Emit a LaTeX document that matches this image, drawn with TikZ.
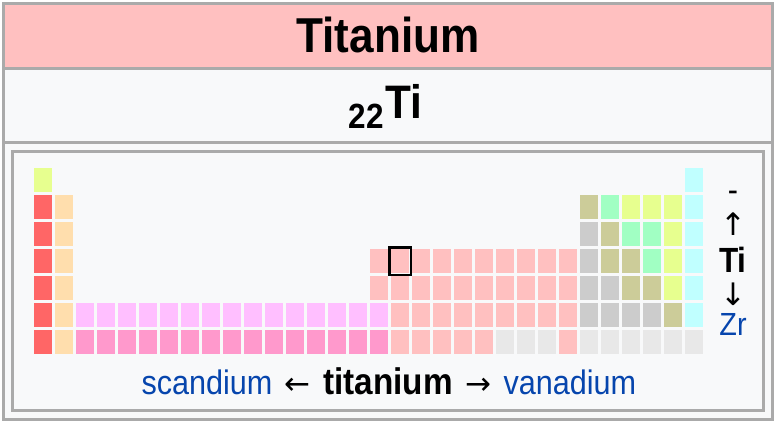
\documentclass[tikz,border=0pt]{standalone}
\usepackage{fontspec}
\usetikzlibrary{positioning}
\setmainfont{Liberation Sans}[FakeStretch=0.9]
\newfontfamily\arrowfont{DejaVu Sans}

% element colours
\definecolor{diatomic}{HTML}{E7FF8F}
\definecolor{polyatomic}{HTML}{A1FFC3}
\definecolor{alkali}{HTML}{FF6666}
\definecolor{alkearth}{HTML}{FFDEAD}
\definecolor{lanthanide}{HTML}{FFBFFF}
\definecolor{actinide}{HTML}{FF99CC}
\definecolor{transition}{HTML}{FFC0C0}
\definecolor{posttrans}{HTML}{CCCCCC}
\definecolor{metalloid}{HTML}{CCCC99}
\definecolor{noble}{HTML}{C0FFFF}
\definecolor{unknown}{HTML}{E8E8E8}
\definecolor{framegray}{HTML}{AAAAAA}
\definecolor{boxbg}{HTML}{F8F9FA}
\definecolor{linkblue}{HTML}{0645AD}

\tikzset{
    frame/.style={draw=framegray,line width=3pt},
    bigtitle/.style={font=\fontsize{49}{49}\selectfont\bfseries,inner sep=0pt},
    sidetext/.style={font=\fontsize{34}{34}\selectfont,inner sep=0pt},
    arrowtext/.style={font=\arrowfont\fontsize{31}{31}\selectfont,inner sep=0pt},
    linktext/.style={sidetext,text=linkblue},
}

\begin{document}
\begin{tikzpicture}[x=1pt,y=-1pt,node distance=12pt]
    % Background and frame
    \useasboundingbox (0,0) rectangle (776,421);
    \fill[white] (0,0) rectangle (776,421);
    \fill[boxbg] (3.5,3.5) rectangle (772.5,419.5);
    \fill[transition] (3.5,3.5) rectangle (772.5,68.5);
    \draw[frame] (3.5,3.5) rectangle (772.5,419.5);
    \draw[frame] (3.5,68.5) -- (772.5,68.5);
    \draw[frame] (3.5,142.5) -- (772.5,142.5);
    \draw[frame] (12.5,151.5) rectangle (763.5,410.5);

    % Header
    \node[bigtitle,anchor=base] (title) at (388,52) {Titanium};
    \node[bigtitle,anchor=base west,font=\fontsize{47}{47}\selectfont\bfseries] (tisym) at (385,118) {Ti};
    \node[bigtitle,anchor=base east,font=\fontsize{35}{35}\selectfont\bfseries] (tinum) at (384,128) {22};

    % Periodic table cells
    \foreach \r/\a/\b/\col in {0/0/0/diatomic, 0/31/31/noble,
        1/0/0/alkali, 1/1/1/alkearth, 1/26/26/metalloid, 1/27/27/polyatomic, 1/28/30/diatomic, 1/31/31/noble,
        2/0/0/alkali, 2/1/1/alkearth, 2/26/26/posttrans, 2/27/27/metalloid, 2/28/29/polyatomic, 2/30/30/diatomic, 2/31/31/noble,
        3/0/0/alkali, 3/1/1/alkearth, 3/16/25/transition, 3/26/26/posttrans, 3/27/28/metalloid, 3/29/29/polyatomic, 3/30/30/diatomic, 3/31/31/noble,
        4/0/0/alkali, 4/1/1/alkearth, 4/16/25/transition, 4/26/27/posttrans, 4/28/29/metalloid, 4/30/30/diatomic, 4/31/31/noble,
        5/0/0/alkali, 5/1/1/alkearth, 5/2/16/lanthanide, 5/17/25/transition, 5/26/29/posttrans, 5/30/30/metalloid, 5/31/31/noble,
        6/0/0/alkali, 6/1/1/alkearth, 6/2/16/actinide, 6/17/21/transition, 6/22/24/unknown, 6/25/25/transition, 6/26/31/unknown}
        \foreach \c in {\a,...,\b}
            \fill[\col] ({34+21*\c},{168+27*\r}) rectangle ++(18,24);

    % Titanium marker
    \draw[line width=2.5pt] (389.25,247.25) rectangle (410.75,274.75);

    % Neighbours in the group
    \node[sidetext] (above) at (733,196) {-};
    \node[arrowtext] (uparrow) at (733,224) {↑};
    \node[sidetext,anchor=base,font=\fontsize{35}{35}\selectfont\bfseries] (tiside) at (733,272) {Ti};
    \node[arrowtext] (downarrow) at (733,294) {↓};
    \node[linktext,anchor=base,font=\fontsize{32}{32}\selectfont] (zr) at (733,335) {Zr};

    % Neighbours in the period
    \node[sidetext,anchor=base,font=\fontsize{37}{37}\selectfont\bfseries] (titanium) at (388,394) {titanium};
    \node[arrowtext,base left=of titanium] (leftarrow) {←};
    \node[linktext,base left=of leftarrow] (scandium) {scandium};
    \node[arrowtext,base right=of titanium] (rightarrow) {→};
    \node[linktext,base right=of rightarrow] (vanadium) {vanadium};
\end{tikzpicture}
\end{document}
